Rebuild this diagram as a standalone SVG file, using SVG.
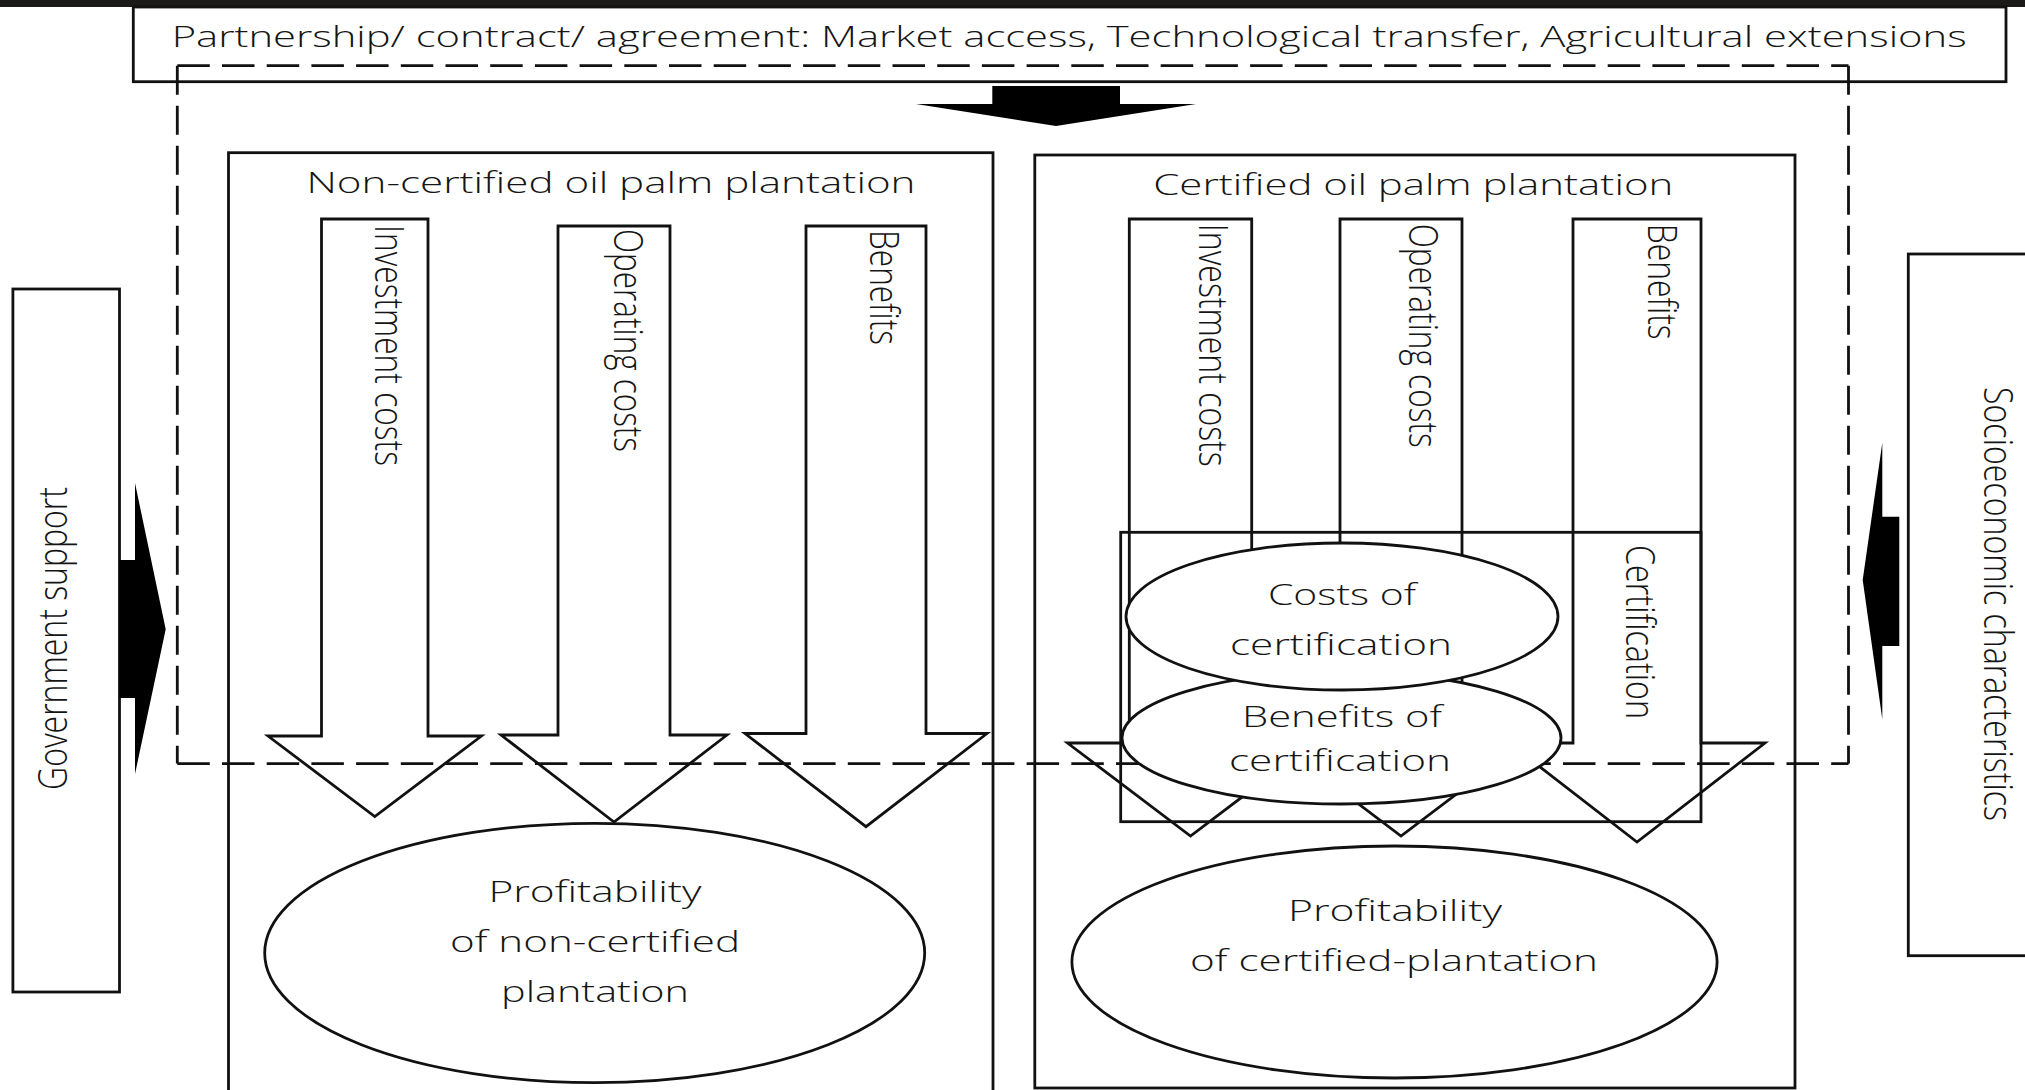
<svg xmlns="http://www.w3.org/2000/svg" width="2025" height="1090" viewBox="0 0 2025 1090">
  <style>
    .box { fill: none; stroke: #111; stroke-width: 2.8; }
    .wbox { fill: #fff; stroke: #111; stroke-width: 2.8; }
    .blk { fill: #000; stroke: none; }
    .dash-h { stroke: #111; stroke-width: 2.8; fill: none; stroke-dasharray: 32.5 12.2; }
    .dash-v { stroke: #111; stroke-width: 2.8; fill: none; stroke-dasharray: 29 11; }
    text { font-family: "Open Sans", "Noto Sans", "DejaVu Sans", sans-serif; font-weight: 350; fill: #151515; }
    .h { font-size: 30px; }
    .v { font-size: 41px; }
  </style>

  <!-- dark band along the top edge -->
  <rect x="0" y="0" width="2025" height="7" fill="#1c1a19"/>

  <!-- partnership / contract banner -->
  <g id="partnership">
    <rect class="box" x="133.3" y="7" width="1872.7" height="74.7"/>
    <text class="h" x="171.7" y="46.5" textLength="1795" lengthAdjust="spacingAndGlyphs">Partnership/ contract/ agreement: Market access, Technological transfer, Agricultural extensions</text>
  </g>

  <!-- government support -->
  <g id="government-support">
    <rect class="box" x="12.9" y="289" width="106.6" height="703"/>
    <text class="v" transform="translate(67,790) rotate(-90)" textLength="303" lengthAdjust="spacingAndGlyphs">Government support</text>
  </g>

  <!-- socioeconomic characteristics -->
  <g id="socioeconomic">
    <rect class="box" x="1908.3" y="254" width="130" height="701.7"/>
    <text class="v" transform="translate(1984,387) rotate(90)" font-size="42" textLength="434" lengthAdjust="spacingAndGlyphs">Socioeconomic characteristics</text>
  </g>

  <!-- plantation frames -->
  <g id="non-certified">
    <rect class="box" x="228.5" y="152.7" width="764.5" height="945"/>
    <text class="h" x="611" y="192.7" text-anchor="middle" textLength="609" lengthAdjust="spacingAndGlyphs">Non-certified oil palm plantation</text>
  </g>
  <g id="certified">
    <rect class="box" x="1034.8" y="155" width="760.2" height="933"/>
    <text class="h" x="1413.3" y="194.6" text-anchor="middle" textLength="520" lengthAdjust="spacingAndGlyphs">Certified oil palm plantation</text>
  </g>

  <!-- flow arrows inside the non-certified plantation -->
  <g id="nc-investment">
    <polygon class="box" points="321.5,219 428,219 428,736 481.5,736 374.8,816.5 268,736 321.5,736"/>
    <text class="v" transform="translate(375,225) rotate(90)" textLength="241" lengthAdjust="spacingAndGlyphs">Investment costs</text>
  </g>
  <g id="nc-operating">
    <polygon class="box" points="558,226 670,226 670,735 727,735 614,822 501,735 558,735"/>
    <text class="v" transform="translate(614,229) rotate(90)" textLength="223" lengthAdjust="spacingAndGlyphs">Operating costs</text>
  </g>
  <g id="nc-benefits">
    <polygon class="box" points="806,226 926,226 926,733.5 987,733.5 866,826.7 745,733.5 806,733.5"/>
    <text class="v" transform="translate(869.5,230) rotate(90)" textLength="115" lengthAdjust="spacingAndGlyphs">Benefits</text>
  </g>

  <!-- flow arrows inside the certified plantation -->
  <g id="c-investment">
    <polygon class="box" points="1129.3,219 1251.7,219 1251.7,743 1313.5,743 1190.5,836 1067.5,743 1129.3,743"/>
    <text class="v" transform="translate(1199,223.7) rotate(90)" textLength="243" lengthAdjust="spacingAndGlyphs">Investment costs</text>
  </g>
  <g id="c-operating">
    <polygon class="box" points="1340,219 1462,219 1462,743 1524,743 1401,836 1278,743 1340,743"/>
    <text class="v" transform="translate(1409,223.7) rotate(90)" textLength="224" lengthAdjust="spacingAndGlyphs">Operating costs</text>
  </g>
  <g id="c-benefits">
    <polygon class="box" points="1573,219 1701,219 1701,743 1765,743 1637,842 1509,743 1573,743"/>
    <text class="v" transform="translate(1648,223.7) rotate(90)" textLength="116" lengthAdjust="spacingAndGlyphs">Benefits</text>
  </g>

  <!-- certification block -->
  <g id="certification">
    <rect class="box" x="1120.7" y="532.3" width="580.3" height="289.4"/>
    <text class="v" transform="translate(1626,545) rotate(90)" textLength="174" lengthAdjust="spacingAndGlyphs">Certification</text>
  </g>

  <!-- connectors: influence arrows and the dashed partnership boundary -->
  <g id="connectors">
    <polygon class="blk" points="992.3,86 1120,86 1120,104 1196,104 1056,126 916,104 992.3,104"/>
    <polygon class="blk" points="119.5,560 135,560 135,483 165.7,629.3 135,774 135,698 119.5,698"/>
    <polygon class="blk" points="1899.3,516.7 1882.3,516.7 1882.3,442.7 1862.7,580 1882.3,719.3 1882.3,646 1899.3,646"/>
    <line class="dash-h" x1="177.3" y1="65.7" x2="1848.5" y2="65.7"/>
    <line class="dash-h" x1="177.3" y1="763.6" x2="1848.5" y2="763.6"/>
    <line class="dash-v" x1="177.3" y1="65.7" x2="177.3" y2="763.6"/>
    <line class="dash-v" x1="1848.5" y1="65.7" x2="1848.5" y2="763.6"/>
  </g>

  <!-- certification outcomes -->
  <g id="benefits-of-certification">
    <ellipse class="wbox" cx="1341.5" cy="738" rx="219.5" ry="66"/>
    <text class="h" x="1342" y="727" text-anchor="middle" textLength="200" lengthAdjust="spacingAndGlyphs">Benefits of</text>
    <text class="h" x="1340" y="770.5" text-anchor="middle" textLength="222" lengthAdjust="spacingAndGlyphs">certification</text>
  </g>
  <g id="costs-of-certification">
    <ellipse class="wbox" cx="1342" cy="616.5" rx="216" ry="73.5"/>
    <text class="h" x="1342" y="604.5" text-anchor="middle" textLength="148" lengthAdjust="spacingAndGlyphs">Costs of</text>
    <text class="h" x="1341" y="654.5" text-anchor="middle" textLength="222" lengthAdjust="spacingAndGlyphs">certification</text>
  </g>

  <!-- profitability results -->
  <g id="profit-non-certified">
    <ellipse class="wbox" cx="594.7" cy="953" rx="330" ry="129.7"/>
    <text class="h" x="595" y="901.7" text-anchor="middle" textLength="213" lengthAdjust="spacingAndGlyphs">Profitability</text>
    <text class="h" x="595" y="951.7" text-anchor="middle" textLength="290" lengthAdjust="spacingAndGlyphs">of non-certified</text>
    <text class="h" x="595" y="1001.7" text-anchor="middle" textLength="188" lengthAdjust="spacingAndGlyphs">plantation</text>
  </g>
  <g id="profit-certified">
    <ellipse class="wbox" cx="1394.5" cy="962" rx="322.6" ry="116"/>
    <text class="h" x="1395" y="921" text-anchor="middle" textLength="214" lengthAdjust="spacingAndGlyphs">Profitability</text>
    <text class="h" x="1394" y="970.7" text-anchor="middle" textLength="408" lengthAdjust="spacingAndGlyphs">of certified-plantation</text>
  </g>
</svg>
